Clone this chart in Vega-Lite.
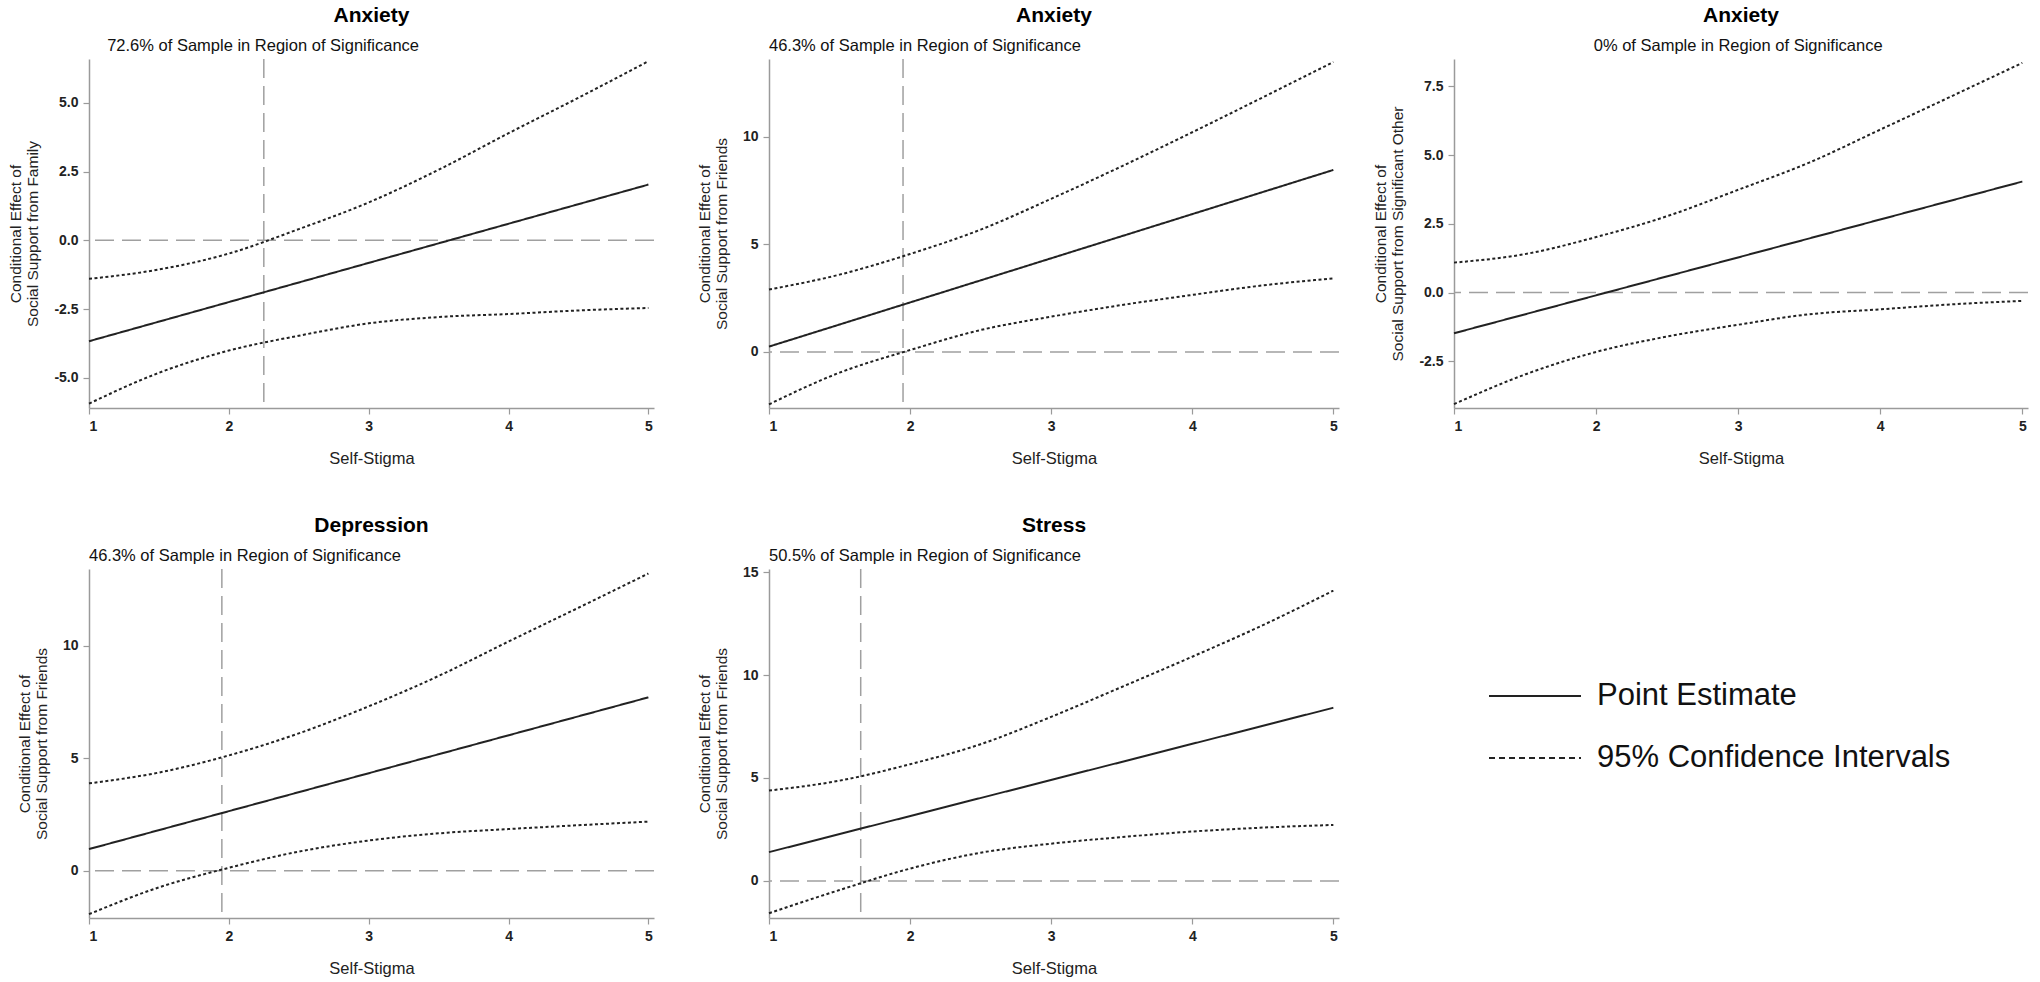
{
  "$schema": "https://vega.github.io/schema/vega-lite/v6.json",
  "background": "white",
  "padding": {"left": 8, "top": 5, "right": 2, "bottom": 5},
  "bounds": "flush",
  "columns": 3,
  "align": "each",
  "spacing": {"row": 161, "column": 115},
  "config": {
    "locale": {"number": {"decimal": ".", "thousands": ",", "grouping": [3], "currency": ["$", ""], "minus": "-"}},
    "view": {"stroke": null},
    "axis": {
      "grid": false,
      "domainColor": "#9a9a9a",
      "domainWidth": 1.5,
      "tickColor": "#9a9a9a",
      "tickSize": 6,
      "tickWidth": 1.2,
      "labelFont": "'Liberation Sans', Arial, sans-serif",
      "labelFontSize": 14,
      "labelFontWeight": "bold",
      "labelColor": "#222",
      "titleFont": "'Liberation Sans', Arial, sans-serif",
      "titleFontWeight": "normal",
      "titleFontSize": 15.5,
      "titleColor": "#222"
    },
    "axisX": {"labelPadding": 5, "titlePadding": 17, "titleFontSize": 16.5},
    "axisY": {"labelPadding": 5, "titlePadding": 13, "titleLineHeight": 17},
    "title": {"font": "'Liberation Sans', Arial, sans-serif", "fontSize": 21, "fontWeight": "bold", "color": "#000", "offset": 12, "anchor": "middle"},
    "legend": {
      "symbolType": "stroke",
      "symbolSize": 8464,
      "symbolStrokeWidth": 2,
      "symbolStrokeColor": "#222",
      "labelFont": "'Liberation Sans', Arial, sans-serif",
      "labelFontSize": 31,
      "labelColor": "#111",
      "labelOffset": 15,
      "labelLimit": 500,
      "rowPadding": -33
    }
  },
  "datasets": {
    "curves": [
      {"panel": "anx_family", "bound": "estimate", "series": "Point Estimate", "stigma": 1, "effect": -3.67},
      {"panel": "anx_family", "bound": "estimate", "series": "Point Estimate", "stigma": 5, "effect": 2.03},
      {"panel": "anx_family", "bound": "lower", "series": "95% Confidence Intervals", "stigma": 1, "effect": -5.94},
      {"panel": "anx_family", "bound": "lower", "series": "95% Confidence Intervals", "stigma": 1.5, "effect": -4.82},
      {"panel": "anx_family", "bound": "lower", "series": "95% Confidence Intervals", "stigma": 2, "effect": -4.01},
      {"panel": "anx_family", "bound": "lower", "series": "95% Confidence Intervals", "stigma": 2.5, "effect": -3.47},
      {"panel": "anx_family", "bound": "lower", "series": "95% Confidence Intervals", "stigma": 3, "effect": -3.02},
      {"panel": "anx_family", "bound": "lower", "series": "95% Confidence Intervals", "stigma": 3.5, "effect": -2.79},
      {"panel": "anx_family", "bound": "lower", "series": "95% Confidence Intervals", "stigma": 4, "effect": -2.68},
      {"panel": "anx_family", "bound": "lower", "series": "95% Confidence Intervals", "stigma": 4.5, "effect": -2.55},
      {"panel": "anx_family", "bound": "lower", "series": "95% Confidence Intervals", "stigma": 5, "effect": -2.46},
      {"panel": "anx_family", "bound": "upper", "series": "95% Confidence Intervals", "stigma": 1, "effect": -1.4},
      {"panel": "anx_family", "bound": "upper", "series": "95% Confidence Intervals", "stigma": 1.5, "effect": -1.06},
      {"panel": "anx_family", "bound": "upper", "series": "95% Confidence Intervals", "stigma": 2, "effect": -0.48},
      {"panel": "anx_family", "bound": "upper", "series": "95% Confidence Intervals", "stigma": 2.5, "effect": 0.41},
      {"panel": "anx_family", "bound": "upper", "series": "95% Confidence Intervals", "stigma": 3, "effect": 1.38},
      {"panel": "anx_family", "bound": "upper", "series": "95% Confidence Intervals", "stigma": 3.5, "effect": 2.57},
      {"panel": "anx_family", "bound": "upper", "series": "95% Confidence Intervals", "stigma": 4, "effect": 3.9},
      {"panel": "anx_family", "bound": "upper", "series": "95% Confidence Intervals", "stigma": 4.5, "effect": 5.19},
      {"panel": "anx_family", "bound": "upper", "series": "95% Confidence Intervals", "stigma": 5, "effect": 6.52},

      {"panel": "anx_friends", "bound": "estimate", "series": "Point Estimate", "stigma": 1, "effect": 0.25},
      {"panel": "anx_friends", "bound": "estimate", "series": "Point Estimate", "stigma": 5, "effect": 8.45},
      {"panel": "anx_friends", "bound": "lower", "series": "95% Confidence Intervals", "stigma": 1, "effect": -2.43},
      {"panel": "anx_friends", "bound": "lower", "series": "95% Confidence Intervals", "stigma": 1.5, "effect": -0.96},
      {"panel": "anx_friends", "bound": "lower", "series": "95% Confidence Intervals", "stigma": 2, "effect": 0.09},
      {"panel": "anx_friends", "bound": "lower", "series": "95% Confidence Intervals", "stigma": 2.5, "effect": 1.02},
      {"panel": "anx_friends", "bound": "lower", "series": "95% Confidence Intervals", "stigma": 3, "effect": 1.64},
      {"panel": "anx_friends", "bound": "lower", "series": "95% Confidence Intervals", "stigma": 3.5, "effect": 2.18},
      {"panel": "anx_friends", "bound": "lower", "series": "95% Confidence Intervals", "stigma": 4, "effect": 2.65},
      {"panel": "anx_friends", "bound": "lower", "series": "95% Confidence Intervals", "stigma": 4.5, "effect": 3.09},
      {"panel": "anx_friends", "bound": "lower", "series": "95% Confidence Intervals", "stigma": 5, "effect": 3.42},
      {"panel": "anx_friends", "bound": "upper", "series": "95% Confidence Intervals", "stigma": 1, "effect": 2.9},
      {"panel": "anx_friends", "bound": "upper", "series": "95% Confidence Intervals", "stigma": 1.5, "effect": 3.59},
      {"panel": "anx_friends", "bound": "upper", "series": "95% Confidence Intervals", "stigma": 2, "effect": 4.55},
      {"panel": "anx_friends", "bound": "upper", "series": "95% Confidence Intervals", "stigma": 2.5, "effect": 5.68},
      {"panel": "anx_friends", "bound": "upper", "series": "95% Confidence Intervals", "stigma": 3, "effect": 7.11},
      {"panel": "anx_friends", "bound": "upper", "series": "95% Confidence Intervals", "stigma": 3.5, "effect": 8.62},
      {"panel": "anx_friends", "bound": "upper", "series": "95% Confidence Intervals", "stigma": 4, "effect": 10.2},
      {"panel": "anx_friends", "bound": "upper", "series": "95% Confidence Intervals", "stigma": 4.5, "effect": 11.82},
      {"panel": "anx_friends", "bound": "upper", "series": "95% Confidence Intervals", "stigma": 5, "effect": 13.46},

      {"panel": "anx_other", "bound": "estimate", "series": "Point Estimate", "stigma": 1, "effect": -1.48},
      {"panel": "anx_other", "bound": "estimate", "series": "Point Estimate", "stigma": 5, "effect": 4.04},
      {"panel": "anx_other", "bound": "lower", "series": "95% Confidence Intervals", "stigma": 1, "effect": -4.06},
      {"panel": "anx_other", "bound": "lower", "series": "95% Confidence Intervals", "stigma": 1.5, "effect": -2.98},
      {"panel": "anx_other", "bound": "lower", "series": "95% Confidence Intervals", "stigma": 2, "effect": -2.16},
      {"panel": "anx_other", "bound": "lower", "series": "95% Confidence Intervals", "stigma": 2.5, "effect": -1.6},
      {"panel": "anx_other", "bound": "lower", "series": "95% Confidence Intervals", "stigma": 3, "effect": -1.17},
      {"panel": "anx_other", "bound": "lower", "series": "95% Confidence Intervals", "stigma": 3.5, "effect": -0.79},
      {"panel": "anx_other", "bound": "lower", "series": "95% Confidence Intervals", "stigma": 4, "effect": -0.61},
      {"panel": "anx_other", "bound": "lower", "series": "95% Confidence Intervals", "stigma": 4.5, "effect": -0.43},
      {"panel": "anx_other", "bound": "lower", "series": "95% Confidence Intervals", "stigma": 5, "effect": -0.3},
      {"panel": "anx_other", "bound": "upper", "series": "95% Confidence Intervals", "stigma": 1, "effect": 1.09},
      {"panel": "anx_other", "bound": "upper", "series": "95% Confidence Intervals", "stigma": 1.5, "effect": 1.4},
      {"panel": "anx_other", "bound": "upper", "series": "95% Confidence Intervals", "stigma": 2, "effect": 2.02},
      {"panel": "anx_other", "bound": "upper", "series": "95% Confidence Intervals", "stigma": 2.5, "effect": 2.78},
      {"panel": "anx_other", "bound": "upper", "series": "95% Confidence Intervals", "stigma": 3, "effect": 3.74},
      {"panel": "anx_other", "bound": "upper", "series": "95% Confidence Intervals", "stigma": 3.5, "effect": 4.73},
      {"panel": "anx_other", "bound": "upper", "series": "95% Confidence Intervals", "stigma": 4, "effect": 5.93},
      {"panel": "anx_other", "bound": "upper", "series": "95% Confidence Intervals", "stigma": 4.5, "effect": 7.14},
      {"panel": "anx_other", "bound": "upper", "series": "95% Confidence Intervals", "stigma": 5, "effect": 8.36},

      {"panel": "dep_friends", "bound": "estimate", "series": "Point Estimate", "stigma": 1, "effect": 0.96},
      {"panel": "dep_friends", "bound": "estimate", "series": "Point Estimate", "stigma": 5, "effect": 7.7},
      {"panel": "dep_friends", "bound": "lower", "series": "95% Confidence Intervals", "stigma": 1, "effect": -1.93},
      {"panel": "dep_friends", "bound": "lower", "series": "95% Confidence Intervals", "stigma": 1.5, "effect": -0.74},
      {"panel": "dep_friends", "bound": "lower", "series": "95% Confidence Intervals", "stigma": 2, "effect": 0.13},
      {"panel": "dep_friends", "bound": "lower", "series": "95% Confidence Intervals", "stigma": 2.5, "effect": 0.85},
      {"panel": "dep_friends", "bound": "lower", "series": "95% Confidence Intervals", "stigma": 3, "effect": 1.34},
      {"panel": "dep_friends", "bound": "lower", "series": "95% Confidence Intervals", "stigma": 3.5, "effect": 1.66},
      {"panel": "dep_friends", "bound": "lower", "series": "95% Confidence Intervals", "stigma": 4, "effect": 1.85},
      {"panel": "dep_friends", "bound": "lower", "series": "95% Confidence Intervals", "stigma": 4.5, "effect": 2.02},
      {"panel": "dep_friends", "bound": "lower", "series": "95% Confidence Intervals", "stigma": 5, "effect": 2.18},
      {"panel": "dep_friends", "bound": "upper", "series": "95% Confidence Intervals", "stigma": 1, "effect": 3.88},
      {"panel": "dep_friends", "bound": "upper", "series": "95% Confidence Intervals", "stigma": 1.5, "effect": 4.36},
      {"panel": "dep_friends", "bound": "upper", "series": "95% Confidence Intervals", "stigma": 2, "effect": 5.12},
      {"panel": "dep_friends", "bound": "upper", "series": "95% Confidence Intervals", "stigma": 2.5, "effect": 6.1},
      {"panel": "dep_friends", "bound": "upper", "series": "95% Confidence Intervals", "stigma": 3, "effect": 7.3},
      {"panel": "dep_friends", "bound": "upper", "series": "95% Confidence Intervals", "stigma": 3.5, "effect": 8.65},
      {"panel": "dep_friends", "bound": "upper", "series": "95% Confidence Intervals", "stigma": 4, "effect": 10.18},
      {"panel": "dep_friends", "bound": "upper", "series": "95% Confidence Intervals", "stigma": 4.5, "effect": 11.68},
      {"panel": "dep_friends", "bound": "upper", "series": "95% Confidence Intervals", "stigma": 5, "effect": 13.2},

      {"panel": "str_friends", "bound": "estimate", "series": "Point Estimate", "stigma": 1, "effect": 1.4},
      {"panel": "str_friends", "bound": "estimate", "series": "Point Estimate", "stigma": 5, "effect": 8.41},
      {"panel": "str_friends", "bound": "lower", "series": "95% Confidence Intervals", "stigma": 1, "effect": -1.57},
      {"panel": "str_friends", "bound": "lower", "series": "95% Confidence Intervals", "stigma": 1.5, "effect": -0.44},
      {"panel": "str_friends", "bound": "lower", "series": "95% Confidence Intervals", "stigma": 2, "effect": 0.6},
      {"panel": "str_friends", "bound": "lower", "series": "95% Confidence Intervals", "stigma": 2.5, "effect": 1.37},
      {"panel": "str_friends", "bound": "lower", "series": "95% Confidence Intervals", "stigma": 3, "effect": 1.81},
      {"panel": "str_friends", "bound": "lower", "series": "95% Confidence Intervals", "stigma": 3.5, "effect": 2.13},
      {"panel": "str_friends", "bound": "lower", "series": "95% Confidence Intervals", "stigma": 4, "effect": 2.4},
      {"panel": "str_friends", "bound": "lower", "series": "95% Confidence Intervals", "stigma": 4.5, "effect": 2.59},
      {"panel": "str_friends", "bound": "lower", "series": "95% Confidence Intervals", "stigma": 5, "effect": 2.72},
      {"panel": "str_friends", "bound": "upper", "series": "95% Confidence Intervals", "stigma": 1, "effect": 4.39},
      {"panel": "str_friends", "bound": "upper", "series": "95% Confidence Intervals", "stigma": 1.5, "effect": 4.87},
      {"panel": "str_friends", "bound": "upper", "series": "95% Confidence Intervals", "stigma": 2, "effect": 5.67},
      {"panel": "str_friends", "bound": "upper", "series": "95% Confidence Intervals", "stigma": 2.5, "effect": 6.64},
      {"panel": "str_friends", "bound": "upper", "series": "95% Confidence Intervals", "stigma": 3, "effect": 7.97},
      {"panel": "str_friends", "bound": "upper", "series": "95% Confidence Intervals", "stigma": 3.5, "effect": 9.42},
      {"panel": "str_friends", "bound": "upper", "series": "95% Confidence Intervals", "stigma": 4, "effect": 10.89},
      {"panel": "str_friends", "bound": "upper", "series": "95% Confidence Intervals", "stigma": 4.5, "effect": 12.42},
      {"panel": "str_friends", "bound": "upper", "series": "95% Confidence Intervals", "stigma": 5, "effect": 14.1}
    ]
  },
  "concat": [
    {
      "width": 565, "height": 349,
      "title": {"text": "Anxiety"},
      "layer": [
        {"data": {"values": [{}]}, "mark": {"type": "rule", "color": "#a0a0a0", "strokeWidth": 1.5, "strokeDash": [19, 8]}, "encoding": {"y": {"datum": 0}}},
        {"data": {"values": [{}]}, "mark": {"type": "rule", "color": "#a0a0a0", "strokeWidth": 1.5, "strokeDash": [19, 8]}, "encoding": {"x": {"datum": 2.25}}},
        {
          "data": {"name": "curves"},
          "transform": [{"filter": "datum.panel === 'anx_family' && datum.bound !== 'estimate'"}],
          "mark": {"type": "line", "interpolate": "monotone", "color": "#222", "strokeWidth": 2, "strokeDash": [3, 2.5]},
          "encoding": {
            "x": {"field": "stigma", "type": "quantitative", "scale": {"domain": [1, 5.04], "nice": false, "zero": false}, "axis": {"values": [1, 2, 3, 4, 5], "format": "d", "title": "Self-Stigma"}},
            "y": {"field": "effect", "type": "quantitative", "scale": {"domain": [-6.1, 6.6], "nice": false, "zero": false}, "axis": {"values": [-5, -2.5, 0, 2.5, 5], "format": ".1f", "title": ["Conditional Effect of", "Social Support from Family"]}},
            "detail": {"field": "bound"}
          }
        },
        {
          "data": {"name": "curves"},
          "transform": [{"filter": "datum.panel === 'anx_family' && datum.bound === 'estimate'"}],
          "mark": {"type": "line", "color": "#222", "strokeWidth": 2},
          "encoding": {
            "x": {"field": "stigma", "type": "quantitative", "scale": {"domain": [1, 5.04], "nice": false, "zero": false}, "axis": {"values": [1, 2, 3, 4, 5], "format": "d", "title": "Self-Stigma"}},
            "y": {"field": "effect", "type": "quantitative", "scale": {"domain": [-6.1, 6.6], "nice": false, "zero": false}, "axis": {"values": [-5, -2.5, 0, 2.5, 5], "format": ".1f", "title": ["Conditional Effect of", "Social Support from Family"]}},
            "strokeDash": {"field": "series", "type": "nominal", "scale": {"domain": ["Point Estimate", "95% Confidence Intervals"], "range": [[1, 0], [6, 4]]}, "legend": {"title": null, "orient": "none", "legendX": 1399, "legendY": 590}}
          }
        },
        {"data": {"values": [{}]}, "mark": {"type": "text", "align": "left", "baseline": "alphabetic", "dy": -8, "font": "'Liberation Sans', Arial, sans-serif", "fontSize": 16.5, "color": "#111"}, "encoding": {"x": {"datum": 1.13}, "y": {"datum": 6.6}, "text": {"value": "72.6% of Sample in Region of Significance"}}}
      ]
    },
    {
      "width": 570, "height": 349,
      "title": {"text": "Anxiety"},
      "layer": [
        {"data": {"values": [{}]}, "mark": {"type": "rule", "color": "#a0a0a0", "strokeWidth": 1.5, "strokeDash": [19, 8]}, "encoding": {"y": {"datum": 0}}},
        {"data": {"values": [{}]}, "mark": {"type": "rule", "color": "#a0a0a0", "strokeWidth": 1.5, "strokeDash": [19, 8]}, "encoding": {"x": {"datum": 1.95}}},
        {
          "data": {"name": "curves"},
          "transform": [{"filter": "datum.panel === 'anx_friends' && datum.bound !== 'estimate'"}],
          "mark": {"type": "line", "interpolate": "monotone", "color": "#222", "strokeWidth": 2, "strokeDash": [3, 2.5]},
          "encoding": {
            "x": {"field": "stigma", "type": "quantitative", "scale": {"domain": [1, 5.04], "nice": false, "zero": false}, "axis": {"values": [1, 2, 3, 4, 5], "format": "d", "title": "Self-Stigma"}},
            "y": {"field": "effect", "type": "quantitative", "scale": {"domain": [-2.6, 13.6], "nice": false, "zero": false}, "axis": {"values": [0, 5, 10], "format": "d", "title": ["Conditional Effect of", "Social Support from Friends"]}},
            "detail": {"field": "bound"}
          }
        },
        {
          "data": {"name": "curves"},
          "transform": [{"filter": "datum.panel === 'anx_friends' && datum.bound === 'estimate'"}],
          "mark": {"type": "line", "color": "#222", "strokeWidth": 2},
          "encoding": {
            "x": {"field": "stigma", "type": "quantitative", "scale": {"domain": [1, 5.04], "nice": false, "zero": false}, "axis": {"values": [1, 2, 3, 4, 5], "format": "d", "title": "Self-Stigma"}},
            "y": {"field": "effect", "type": "quantitative", "scale": {"domain": [-2.6, 13.6], "nice": false, "zero": false}, "axis": {"values": [0, 5, 10], "format": "d", "title": ["Conditional Effect of", "Social Support from Friends"]}},
            "strokeDash": {"field": "series", "type": "nominal", "scale": {"domain": ["Point Estimate", "95% Confidence Intervals"], "range": [[1, 0], [6, 4]]}, "legend": {"title": null, "orient": "none", "legendX": 1399, "legendY": 590}}
          }
        },
        {"data": {"values": [{}]}, "mark": {"type": "text", "align": "left", "baseline": "alphabetic", "dy": -8, "font": "'Liberation Sans', Arial, sans-serif", "fontSize": 16.5, "color": "#111"}, "encoding": {"x": {"datum": 1}, "y": {"datum": 13.6}, "text": {"value": "46.3% of Sample in Region of Significance"}}}
      ]
    },
    {
      "width": 574, "height": 349,
      "title": {"text": "Anxiety"},
      "layer": [
        {"data": {"values": [{}]}, "mark": {"type": "rule", "color": "#a0a0a0", "strokeWidth": 1.5, "strokeDash": [19, 8]}, "encoding": {"y": {"datum": 0}}},
        {
          "data": {"name": "curves"},
          "transform": [{"filter": "datum.panel === 'anx_other' && datum.bound !== 'estimate'"}],
          "mark": {"type": "line", "interpolate": "monotone", "color": "#222", "strokeWidth": 2, "strokeDash": [3, 2.5]},
          "encoding": {
            "x": {"field": "stigma", "type": "quantitative", "scale": {"domain": [1, 5.04], "nice": false, "zero": false}, "axis": {"values": [1, 2, 3, 4, 5], "format": "d", "title": "Self-Stigma"}},
            "y": {"field": "effect", "type": "quantitative", "scale": {"domain": [-4.2, 8.5], "nice": false, "zero": false}, "axis": {"values": [-2.5, 0, 2.5, 5, 7.5], "format": ".1f", "title": ["Conditional Effect of", "Social Support from Significant Other"]}},
            "detail": {"field": "bound"}
          }
        },
        {
          "data": {"name": "curves"},
          "transform": [{"filter": "datum.panel === 'anx_other' && datum.bound === 'estimate'"}],
          "mark": {"type": "line", "color": "#222", "strokeWidth": 2},
          "encoding": {
            "x": {"field": "stigma", "type": "quantitative", "scale": {"domain": [1, 5.04], "nice": false, "zero": false}, "axis": {"values": [1, 2, 3, 4, 5], "format": "d", "title": "Self-Stigma"}},
            "y": {"field": "effect", "type": "quantitative", "scale": {"domain": [-4.2, 8.5], "nice": false, "zero": false}, "axis": {"values": [-2.5, 0, 2.5, 5, 7.5], "format": ".1f", "title": ["Conditional Effect of", "Social Support from Significant Other"]}},
            "strokeDash": {"field": "series", "type": "nominal", "scale": {"domain": ["Point Estimate", "95% Confidence Intervals"], "range": [[1, 0], [6, 4]]}, "legend": {"title": null, "orient": "none", "legendX": 1399, "legendY": 590}}
          }
        },
        {"data": {"values": [{}]}, "mark": {"type": "text", "align": "center", "baseline": "alphabetic", "dy": -8, "font": "'Liberation Sans', Arial, sans-serif", "fontSize": 16.5, "color": "#111"}, "encoding": {"x": {"datum": 3}, "y": {"datum": 8.5}, "text": {"value": "0% of Sample in Region of Significance"}}}
      ]
    },
    {
      "width": 565, "height": 349,
      "title": {"text": "Depression"},
      "layer": [
        {"data": {"values": [{}]}, "mark": {"type": "rule", "color": "#a0a0a0", "strokeWidth": 1.5, "strokeDash": [19, 8]}, "encoding": {"y": {"datum": 0}}},
        {"data": {"values": [{}]}, "mark": {"type": "rule", "color": "#a0a0a0", "strokeWidth": 1.5, "strokeDash": [19, 8]}, "encoding": {"x": {"datum": 1.95}}},
        {
          "data": {"name": "curves"},
          "transform": [{"filter": "datum.panel === 'dep_friends' && datum.bound !== 'estimate'"}],
          "mark": {"type": "line", "interpolate": "monotone", "color": "#222", "strokeWidth": 2, "strokeDash": [3, 2.5]},
          "encoding": {
            "x": {"field": "stigma", "type": "quantitative", "scale": {"domain": [1, 5.04], "nice": false, "zero": false}, "axis": {"values": [1, 2, 3, 4, 5], "format": "d", "title": "Self-Stigma"}},
            "y": {"field": "effect", "type": "quantitative", "scale": {"domain": [-2.1, 13.4], "nice": false, "zero": false}, "axis": {"values": [0, 5, 10], "format": "d", "title": ["Conditional Effect of", "Social Support from Friends"]}},
            "detail": {"field": "bound"}
          }
        },
        {
          "data": {"name": "curves"},
          "transform": [{"filter": "datum.panel === 'dep_friends' && datum.bound === 'estimate'"}],
          "mark": {"type": "line", "color": "#222", "strokeWidth": 2},
          "encoding": {
            "x": {"field": "stigma", "type": "quantitative", "scale": {"domain": [1, 5.04], "nice": false, "zero": false}, "axis": {"values": [1, 2, 3, 4, 5], "format": "d", "title": "Self-Stigma"}},
            "y": {"field": "effect", "type": "quantitative", "scale": {"domain": [-2.1, 13.4], "nice": false, "zero": false}, "axis": {"values": [0, 5, 10], "format": "d", "title": ["Conditional Effect of", "Social Support from Friends"]}},
            "strokeDash": {"field": "series", "type": "nominal", "scale": {"domain": ["Point Estimate", "95% Confidence Intervals"], "range": [[1, 0], [6, 4]]}, "legend": {"title": null, "orient": "none", "legendX": 1399, "legendY": 590}}
          }
        },
        {"data": {"values": [{}]}, "mark": {"type": "text", "align": "left", "baseline": "alphabetic", "dy": -8, "font": "'Liberation Sans', Arial, sans-serif", "fontSize": 16.5, "color": "#111"}, "encoding": {"x": {"datum": 1}, "y": {"datum": 13.4}, "text": {"value": "46.3% of Sample in Region of Significance"}}}
      ]
    },
    {
      "width": 570, "height": 349,
      "title": {"text": "Stress"},
      "layer": [
        {"data": {"values": [{}]}, "mark": {"type": "rule", "color": "#a0a0a0", "strokeWidth": 1.5, "strokeDash": [19, 8]}, "encoding": {"y": {"datum": 0}}},
        {"data": {"values": [{}]}, "mark": {"type": "rule", "color": "#a0a0a0", "strokeWidth": 1.5, "strokeDash": [19, 8]}, "encoding": {"x": {"datum": 1.65}}},
        {
          "data": {"name": "curves"},
          "transform": [{"filter": "datum.panel === 'str_friends' && datum.bound !== 'estimate'"}],
          "mark": {"type": "line", "interpolate": "monotone", "color": "#222", "strokeWidth": 2, "strokeDash": [3, 2.5]},
          "encoding": {
            "x": {"field": "stigma", "type": "quantitative", "scale": {"domain": [1, 5.04], "nice": false, "zero": false}, "axis": {"values": [1, 2, 3, 4, 5], "format": "d", "title": "Self-Stigma"}},
            "y": {"field": "effect", "type": "quantitative", "scale": {"domain": [-1.8, 15.15], "nice": false, "zero": false}, "axis": {"values": [0, 5, 10, 15], "format": "d", "title": ["Conditional Effect of", "Social Support from Friends"]}},
            "detail": {"field": "bound"}
          }
        },
        {
          "data": {"name": "curves"},
          "transform": [{"filter": "datum.panel === 'str_friends' && datum.bound === 'estimate'"}],
          "mark": {"type": "line", "color": "#222", "strokeWidth": 2},
          "encoding": {
            "x": {"field": "stigma", "type": "quantitative", "scale": {"domain": [1, 5.04], "nice": false, "zero": false}, "axis": {"values": [1, 2, 3, 4, 5], "format": "d", "title": "Self-Stigma"}},
            "y": {"field": "effect", "type": "quantitative", "scale": {"domain": [-1.8, 15.15], "nice": false, "zero": false}, "axis": {"values": [0, 5, 10, 15], "format": "d", "title": ["Conditional Effect of", "Social Support from Friends"]}},
            "strokeDash": {"field": "series", "type": "nominal", "scale": {"domain": ["Point Estimate", "95% Confidence Intervals"], "range": [[1, 0], [6, 4]]}, "legend": {"title": null, "orient": "none", "legendX": 1399, "legendY": 590}}
          }
        },
        {"data": {"values": [{}]}, "mark": {"type": "text", "align": "left", "baseline": "alphabetic", "dy": -8, "font": "'Liberation Sans', Arial, sans-serif", "fontSize": 16.5, "color": "#111"}, "encoding": {"x": {"datum": 1}, "y": {"datum": 15.15}, "text": {"value": "50.5% of Sample in Region of Significance"}}}
      ]
    }
  ]
}
